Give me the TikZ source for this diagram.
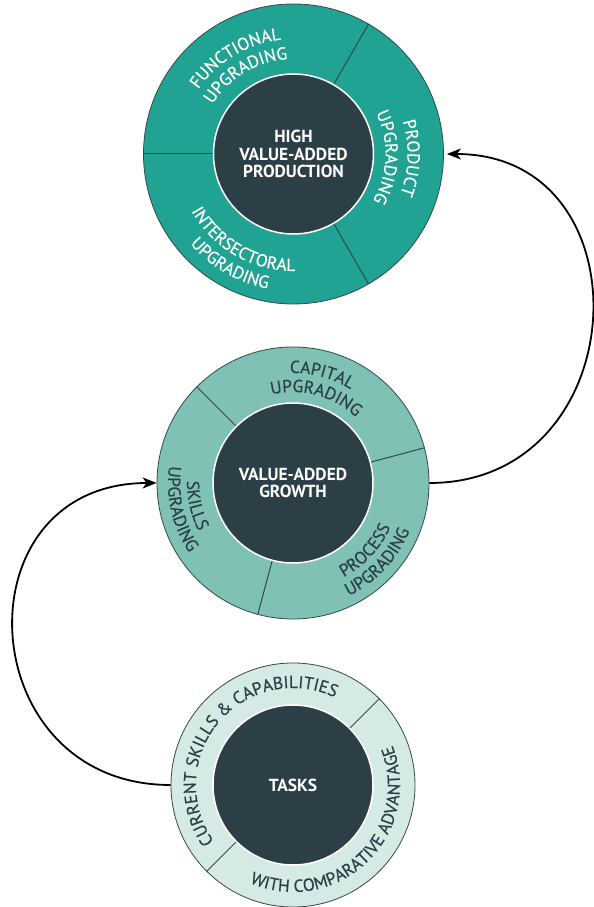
\documentclass[tikz,border=0pt]{standalone}
\usepackage{fontspec}
\setmainfont{PT Sans}
\newfontfamily\ringfam[FakeBold=0.35]{PT Sans}
\usetikzlibrary{decorations.text,arrows.meta,calc}
\definecolor{topring}{HTML}{21A394}
\definecolor{midring}{HTML}{80C1B6}
\definecolor{botring}{HTML}{D5E9E5}
\definecolor{corecol}{HTML}{2C3F47}
\definecolor{edgecol}{HTML}{34484C}
\newcommand\ringfont{\ringfam\fontsize{17.5}{19}\selectfont}
\newcommand\corefont{\fontsize{17.5}{17.5}\selectfont\bfseries}
% clockwise label (upper side), #1 centre, #2 angle, #3 baseline radius, #4 colour, #5 text
\newcommand\cwlabel[5]{%
  \path[decorate, decoration={text along path, text align=center, text color=#4, text={|\ringfont|#5}}]
    ($(#1)+(#2+100:#3)$) arc[start angle=#2+100, end angle=#2-100, radius=#3];}
% counter-clockwise label (lower side)
\newcommand\ccwlabel[5]{%
  \path[decorate, decoration={text along path, text align=center, text color=#4, text={|\ringfont|#5}}]
    ($(#1)+(#2-100:#3)$) arc[start angle=#2-100, end angle=#2+100, radius=#3];}
\begin{document}
\begin{tikzpicture}[x=1bp,y=1bp,
  ringc/.style={circle, draw=edgecol, line width=0.8bp, inner sep=0pt, minimum size=#1},
  corec/.style={circle, fill=corecol, draw=white, line width=1.5bp, inner sep=0pt, minimum size=160bp, text=white, align=center, font=\corefont},
  divider/.style={draw=edgecol, line width=1bp},
  conn/.style={line width=1.8bp, -{Stealth[length=14bp,width=11bp,inset=4bp]}},
]
\useasboundingbox (0,0) rectangle (594,907);
% rings
\node[ringc=300bp, fill=topring] (topring) at (293.5,753) {};
\node[ringc=272bp, fill=midring] (midring) at (293,424) {};
\node[ringc=244bp, fill=botring] (botring) at (293,122) {};
% dividers
\foreach \a in {60,180,300}
  \draw[divider] ($(topring.center)+(\a:80)$) -- ($(topring.center)+(\a:150)$);
\foreach \a in {15,135,255}
  \draw[divider] ($(midring.center)+(\a:80)$) -- ($(midring.center)+(\a:136)$);
\foreach \a in {45,225}
  \draw[divider] ($(botring.center)+(\a:80)$) -- ($(botring.center)+(\a:122)$);
% cores
\node[corec] (topcore) at (topring.center) {HIGH\\VALUE-ADDED\\PRODUCTION};
\node[corec] (midcore) at (midring.center) {VALUE-ADDED\\GROWTH};
\node[corec] (botcore) at (botring.center) {TASKS};
% ring labels
\cwlabel{topring.center}{121}{115}{white}{FUNCTIONAL}
\cwlabel{topring.center}{121}{95}{white}{UPGRADING}
\cwlabel{topring.center}{-2}{114}{white}{PRODUCT}
\cwlabel{topring.center}{-2}{92}{white}{UPGRADING}
\ccwlabel{topring.center}{240}{117}{white}{INTERSECTORAL}
\ccwlabel{topring.center}{240}{137}{white}{UPGRADING}
\cwlabel{midring.center}{75}{110}{corecol}{CAPITAL}
\cwlabel{midring.center}{75}{91}{corecol}{UPGRADING}
\ccwlabel{midring.center}{193}{106}{corecol}{SKILLS}
\ccwlabel{midring.center}{193}{125}{corecol}{UPGRADING}
\ccwlabel{midring.center}{-43}{107}{corecol}{PROCESS}
\ccwlabel{midring.center}{-43}{126}{corecol}{UPGRADING}
\cwlabel{botring.center}{140}{97}{corecol}{CURRENT SKILLS {\&} CAPABILITIES}
\ccwlabel{botring.center}{-46}{107}{corecol}{WITH COMPARATIVE ADVANTAGE}
% connectors
\coordinate (topin) at ($(topring.east)+(3,0)$);
\draw[conn] (midring.east) .. controls +(207,0) and +(203,0) .. (topin);
\draw[conn] (botring.west) .. controls +(-200,0) and +(-200,0) .. (midring.west);
\end{tikzpicture}
\end{document}
